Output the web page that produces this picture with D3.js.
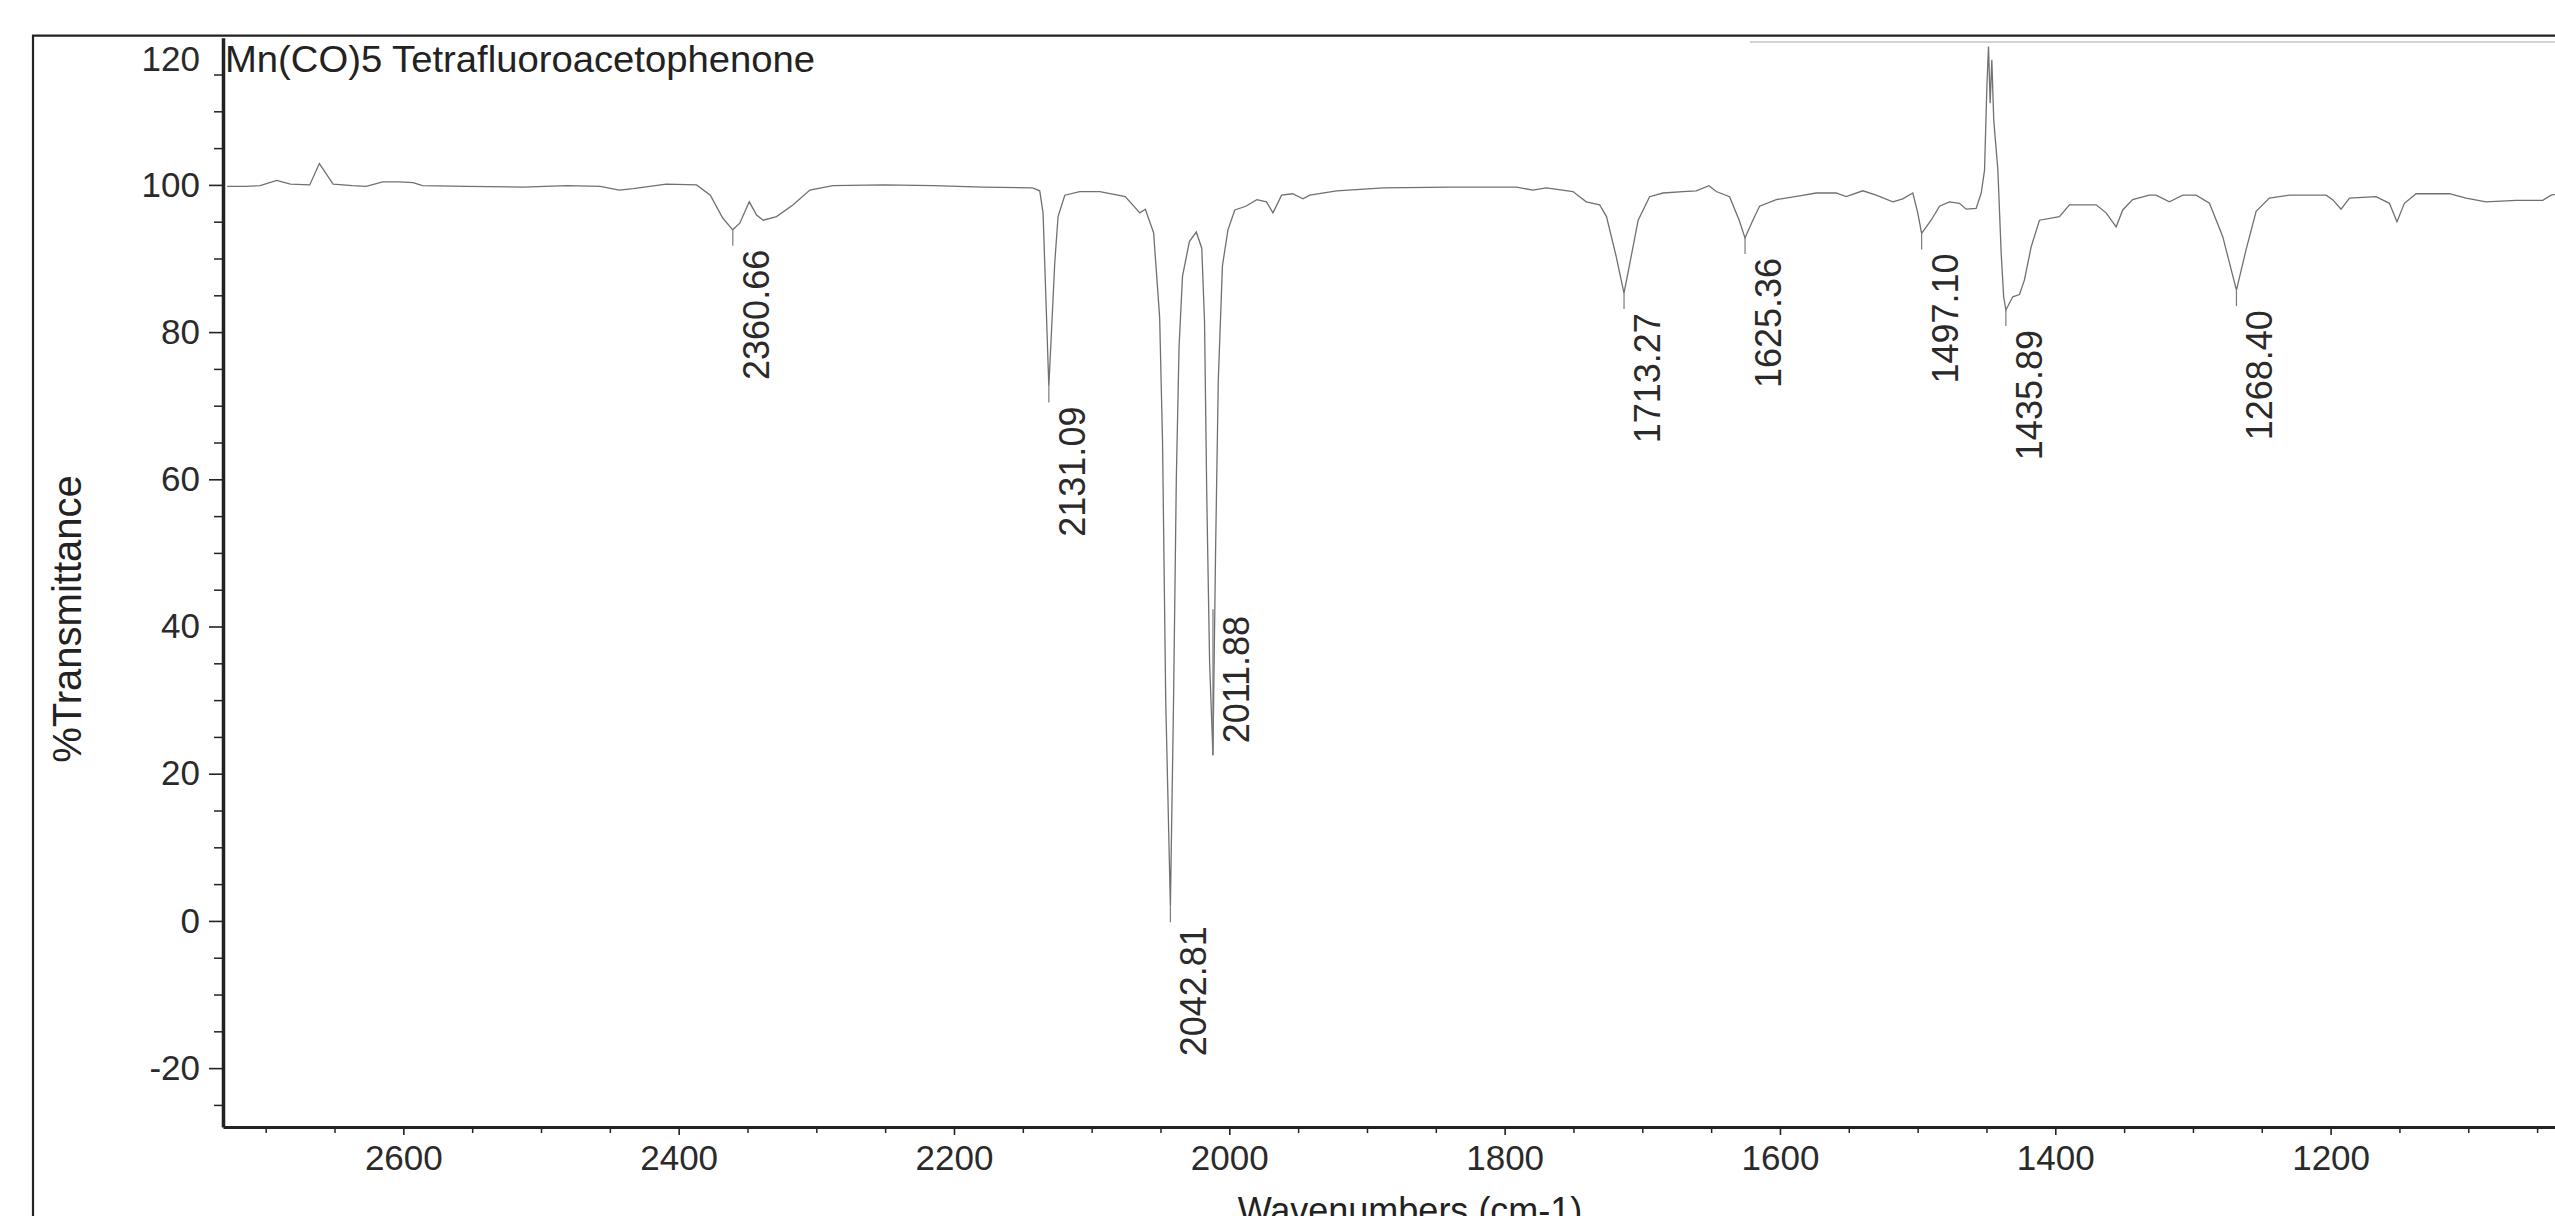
<!DOCTYPE html>
<html>
<head>
<meta charset="utf-8">
<script src="https://d3js.org/d3.v7.min.js"></script>
<style>
body {margin:0; background:#fff;}
svg {display:block; font-family:'Liberation Sans', Arial, sans-serif;}
.spec {fill:none; stroke:#707070; stroke-width:1.3;}
.mark {stroke:#7a7a7a; stroke-width:1.2;}
.axis path, .axis line {stroke:#222;}
.axis text {fill:#2a2a2a;}
</style>
</head>
<body>
<svg id="chart" width="2555" height="1216"></svg>
<script>
// spectrum (axis wavenumbers, %T)
const wavenumbers = [2728,2715,2704,2692,2682,2668,2661,2651,2637,2627,2615,2603,2593,2586,2554,2513,2481,2457,2443,2433,2409,2387,2377,2368,2360.7,2355.6,2348.7,2343.4,2338.6,2328.9,2316.8,2304.7,2288,2251,2215,2179,2143,2137.7,2135.3,2131.1,2126.8,2124.4,2119.5,2108.6,2094,2075.6,2065,2061,2055,2050.6,2048.5,2046.2,2042.8,2040.5,2038.5,2036.5,2034,2029,2024,2020,2018,2016.4,2014.3,2011.9,2010,2008,2005,2001,1996,1988,1980,1973,1968.3,1962,1954,1946.5,1941.6,1922,1888,1840,1791.5,1779.5,1769.7,1750.4,1740.7,1731,1726,1719,1713.3,1709,1703,1694.7,1685,1670.5,1660.8,1651.6,1646.3,1636.6,1629.6,1625.4,1619.7,1614.8,1602.7,1585.8,1573.7,1559.2,1551.9,1539.8,1530.1,1518,1510.8,1503.5,1499.9,1497.1,1490.2,1484.1,1476.9,1469.6,1464.7,1457.5,1453.8,1451.4,1449.7,1448.5,1447.3,1446.1,1444.7,1441.7,1439.3,1437.5,1435.9,1430.9,1426,1422.4,1417.5,1411.5,1397,1389.7,1370.3,1363.1,1355.8,1351,1343.8,1331.7,1326.8,1317.1,1307.4,1297.7,1288,1278.4,1268.4,1261.4,1254.1,1244.5,1230,1203.3,1198.5,1192.4,1186.3,1167,1157.3,1151.8,1146.4,1137.9,1113.7,1101.6,1087.1,1065.3,1045.9,1039.8,1030];
const transmittance = [99.8,99.8,99.9,100.6,100.1,100.0,102.9,100.1,99.9,99.8,100.4,100.4,100.3,99.9,99.8,99.7,99.9,99.8,99.3,99.5,100.1,100.0,98.6,95.5,93.9,94.8,97.7,95.9,95.2,95.7,97.3,99.3,99.9,100.0,99.9,99.7,99.6,99.2,96.2,72.6,89.4,95.7,98.6,99.1,99.1,98.4,96.2,96.7,93.5,82,65,30,2,30,60,78,87.6,92.3,93.6,91.4,81.4,58,35,22.5,50,73.5,89,93.9,96.6,97.1,98.0,97.7,96.2,98.6,98.8,98.1,98.6,99.2,99.6,99.7,99.7,99.3,99.6,99.1,97.7,97.3,95.7,90.3,85.3,89.4,95.2,98.4,98.9,99.1,99.2,99.9,99.1,98.4,95.2,92.8,95.2,97.1,98.0,98.5,98.9,98.9,98.4,99.2,98.6,97.7,98.1,98.9,96.2,93.4,95.2,97.1,97.7,97.5,96.7,96.8,98.9,102,113.3,118.8,111.1,117,108.8,102,90.7,84.8,83.0,84.8,85.1,87.1,91.6,95.2,95.7,97.3,97.3,96.2,94.3,96.6,98.0,98.6,98.6,97.7,98.6,98.6,97.5,93,85.7,91.2,96.4,98.2,98.6,98.6,98.0,96.7,98.2,98.4,97.5,95.0,97.5,98.8,98.8,98.2,97.7,97.9,97.9,98.6,99];

// labelled peaks
const peakWn = [2360.66,2131.09,2042.81,2011.88,1713.27,1625.36,1497.10,1435.89,1268.40];
const peakT = [93.9,72.6,2.0,22.5,85.3,92.8,93.4,83.0,85.7];

const xTicks = [2600,2400,2200,2000,1800,1600,1400,1200];
const yTicks = [120,100,80,60,40,20,0,-20];

const title = 'Mn(CO)5 Tetrafluoroacetophenone';
const xTitle = 'Wavenumbers (cm-1)';
const yTitle = '%Transmittance';

const svg = d3.select('#chart');
const x = d3.scaleLinear().domain([2731,1037]).range([223,2555]);
const y = d3.scaleLinear().domain([120,-28]).range([37.7,1127]);

// outer frame (cropped on right and bottom)
svg.append('path').attr('d','M33,1216V35.7H2555')
  .attr('fill','none').attr('stroke','#222').attr('stroke-width',2.2);
// faint top border of the plot
svg.append('line').attr('x1',1750).attr('x2',2555)
  .attr('y1',y(119.4)).attr('y2',y(119.4))
  .attr('stroke','#c4c4c4').attr('stroke-width',1.5);

// minor ticks
const yMinor = d3.range(-25,120,5).filter(d => d % 20 !== 0);
svg.append('g').attr('class','axis').attr('transform','translate(223,0)')
  .call(d3.axisLeft(y).tickValues(yMinor).tickSize(9).tickFormat(''))
  .call(g => g.select('.domain').remove())
  .selectAll('line').attr('stroke-width',1.5);
const xMinor = d3.range(2700,1040,-50).filter(d => d % 200 !== 0);
svg.append('g').attr('class','axis').attr('transform','translate(0,1127)')
  .call(d3.axisBottom(x).tickValues(xMinor).tickSize(6).tickFormat(''))
  .call(g => g.select('.domain').remove())
  .selectAll('line').attr('stroke-width',1.5);

// y axis
const gy = svg.append('g').attr('class','axis').attr('transform','translate(223,0)')
  .call(d3.axisLeft(y).tickValues(yTicks).tickSize(14).tickSizeOuter(0).tickPadding(9).tickFormat(d => String(d)));
gy.select('.domain').attr('stroke-width',3.5);
gy.selectAll('line').attr('stroke-width',1.6);
gy.selectAll('text').attr('font-size',35).attr('font-family',null);
gy.selectAll('.tick').filter(d => d === 120).select('text').attr('transform','translate(0,22)');
gy.selectAll('.tick').filter(d => d === 120).select('line').remove();

// x axis
const gx = svg.append('g').attr('class','axis').attr('transform','translate(0,1127)')
  .call(d3.axisBottom(x).tickValues(xTicks).tickSize(8).tickSizeOuter(0).tickPadding(10).tickFormat(d => String(d)));
gx.select('.domain').attr('stroke-width',3);
gx.selectAll('line').attr('stroke-width',1.6);
gx.selectAll('text').attr('font-size',35).attr('font-family',null);

// spectrum
const pts = wavenumbers.map((w,i) => [w, transmittance[i]]);
svg.append('path').datum(pts).attr('class','spec')
  .attr('d', d3.line().x(d => x(d[0])).y(d => y(d[1])));

// peak markers and labels
const flipUp = new Set(['2011.88']);
const peaks = peakWn.map((w,i) => ({w:w, t:peakT[i], s:w.toFixed(2)}));
const pk = svg.append('g').selectAll('g').data(peaks).join('g');
pk.append('line').attr('class','mark')
  .attr('x1', d => x(d.w)).attr('x2', d => x(d.w))
  .attr('y1', d => y(d.t))
  .attr('y2', d => flipUp.has(d.s) ? y(d.t) - 146 : y(d.t) + 16);
pk.append('text')
  .attr('transform', d => flipUp.has(d.s)
     ? `translate(${x(d.w)+36},${y(d.t)-12}) rotate(-90)`
     : `translate(${x(d.w)+36},${y(d.t)+20}) rotate(-90)`)
  .attr('text-anchor', d => flipUp.has(d.s) ? 'start' : 'end')
  .attr('font-size',36).attr('fill','#2a2a2a')
  .text(d => d.s);

// titles
svg.append('text').attr('x',225).attr('y',72).attr('font-size',37)
  .attr('textLength',590).attr('lengthAdjust','spacingAndGlyphs')
  .attr('fill','#222').text(title);
svg.append('text').attr('x',1410).attr('y',1223).attr('text-anchor','middle')
  .attr('font-size',36).attr('fill','#222').text(xTitle);
svg.append('text').attr('transform','translate(81,619) rotate(-90)').attr('text-anchor','middle')
  .attr('font-size',40).attr('fill','#222').text(yTitle);
</script>
</body>
</html>
